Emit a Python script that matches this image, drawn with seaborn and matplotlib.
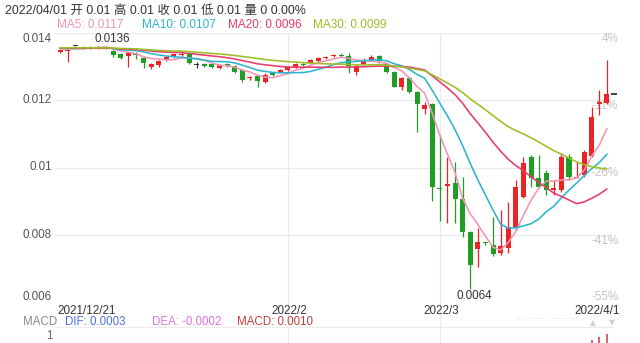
import matplotlib
matplotlib.use("Agg")
import matplotlib.pyplot as plt
import seaborn as sns
import pandas as pd
import numpy as np

sns.set_theme(style="white")
plt.rcParams['font.family'] = ['Liberation Sans', 'Noto Sans CJK SC', 'DejaVu Sans']

# ---------------- data ----------------
opens = [
    0.01342, 0.01345, 0.01359, 0.01355, 0.01354, 0.01354, 0.01352, 0.01345, 0.01336, 0.01330,
    0.01340, 0.01324, 0.01298, 0.01304, 0.01319, 0.01327, 0.01333, 0.01336, 0.01304, 0.01307,
    0.01307, 0.01295, 0.01307, 0.01301, 0.01289, 0.01265, 0.01271, 0.01253, 0.01280, 0.01283,
    0.01289, 0.01298, 0.01307, 0.01310, 0.01316, 0.01323, 0.01331, 0.01334, 0.01330, 0.01283,
    0.01307, 0.01319, 0.01330, 0.01307, 0.01283, 0.01239, 0.01265, 0.01224, 0.01173, 0.01188,
    0.00939, 0.00945, 0.00954, 0.00907, 0.00809, 0.00758, 0.00779, 0.00770, 0.00747, 0.00761,
    0.00824, 0.00913, 0.01031, 0.00969, 0.00984, 0.00933, 0.00933, 0.01031, 0.00969, 0.00978,
    0.01034, 0.01188, 0.01191]
closes = [
    0.01348, 0.01348, 0.01359, 0.01357, 0.01357, 0.01357, 0.01356, 0.01333, 0.01324, 0.01339,
    0.01333, 0.01310, 0.01308, 0.01316, 0.01327, 0.01336, 0.01336, 0.01310, 0.01304, 0.01301,
    0.01297, 0.01304, 0.01301, 0.01283, 0.01259, 0.01268, 0.01256, 0.01274, 0.01274, 0.01289,
    0.01298, 0.01307, 0.01304, 0.01319, 0.01324, 0.01327, 0.01333, 0.01331, 0.01301, 0.01301,
    0.01316, 0.01327, 0.01316, 0.01283, 0.01239, 0.01265, 0.01224, 0.01188, 0.01185, 0.00942,
    0.00936, 0.00951, 0.00907, 0.00809, 0.00711, 0.00779, 0.00776, 0.00744, 0.00767, 0.00824,
    0.00942, 0.01013, 0.00969, 0.00942, 0.00933, 0.00939, 0.01031, 0.00972, 0.00972, 0.01046,
    0.01150, 0.01194, 0.01218]
highs = [
    0.01351, 0.01351, 0.01359, 0.01359, 0.01359, 0.01359, 0.01361, 0.01348, 0.01339, 0.01342,
    0.01342, 0.01330, 0.01310, 0.01319, 0.01330, 0.01339, 0.01339, 0.01339, 0.01313, 0.01310,
    0.01307, 0.01307, 0.01310, 0.01304, 0.01289, 0.01271, 0.01271, 0.01280, 0.01283, 0.01292,
    0.01301, 0.01310, 0.01310, 0.01322, 0.01327, 0.01330, 0.01336, 0.01339, 0.01339, 0.01307,
    0.01324, 0.01333, 0.01333, 0.01310, 0.01286, 0.01268, 0.01268, 0.01227, 0.01194, 0.01191,
    0.01096, 0.01031, 0.01016, 0.00972, 0.00812, 0.00821, 0.00779, 0.00853, 0.00874, 0.00898,
    0.00963, 0.01031, 0.01037, 0.01037, 0.00993, 0.00963, 0.01043, 0.01040, 0.01016, 0.01052,
    0.01179, 0.01230, 0.01319]
lows = [
    0.01339, 0.01313, 0.01352, 0.01350, 0.01351, 0.01351, 0.01350, 0.01327, 0.01321, 0.01298,
    0.01321, 0.01295, 0.01292, 0.01298, 0.01316, 0.01324, 0.01327, 0.01307, 0.01295, 0.01298,
    0.01295, 0.01292, 0.01298, 0.01280, 0.01253, 0.01259, 0.01239, 0.01250, 0.01271, 0.01280,
    0.01286, 0.01295, 0.01301, 0.01307, 0.01313, 0.01321, 0.01327, 0.01327, 0.01280, 0.01274,
    0.01304, 0.01316, 0.01310, 0.01280, 0.01239, 0.01230, 0.01221, 0.01105, 0.01159, 0.00901,
    0.00841, 0.00836, 0.00836, 0.00794, 0.00640, 0.00705, 0.00770, 0.00738, 0.00741, 0.00747,
    0.00815, 0.00910, 0.00942, 0.00939, 0.00919, 0.00919, 0.00927, 0.00963, 0.00969, 0.00972,
    0.01031, 0.01156, 0.01188]
# closes before the visible window (seed for the moving averages)
prior_closes = [
    0.01352, 0.01355, 0.01358, 0.01356, 0.01354, 0.01357, 0.01360, 0.01358, 0.01355, 0.01353,
    0.01356, 0.01359, 0.01357, 0.01354, 0.01352, 0.01355, 0.01358, 0.01356, 0.01353, 0.01351,
    0.01354, 0.01357, 0.01355, 0.01352, 0.01350, 0.01353, 0.01356, 0.01354, 0.01351]

date_tick_pos = [0, 30, 50, 72]
date_tick_labels = ["2021/12/21", "2022/2", "2022/3", "2022/4/1"]
price_ticks = [0.014, 0.012, 0.010, 0.008, 0.006]
price_tick_labels = ["0.014", "0.012", "0.01", "0.008", "0.006"]
pct_tick_labels = ["4%", "-11%", "-26%", "-41%", "-55%"]

ma_periods = [5, 10, 20, 30]
ma_names = ["MA5", "MA10", "MA20", "MA30"]
ma_shown = ["0.0117", "0.0107", "0.0096", "0.0099"]

header = "2022/04/01 开 0.01 高 0.01 收 0.01 低 0.01 量 0 0.00%"
macd_names = ["DIF", "DEA", "MACD"]
macd_shown = ["0.0003", "-0.0002", "0.0010"]
macd_idx = [70, 71, 72]
macd_vals = [0.0008, 0.0009, 0.0010]

# ---------------- styles ----------------
RED, GREEN, DOJI = "#ec2323", "#1f9d24", "#333333"
MA_COLORS = {"MA5": "#f394b4", "MA10": "#2bb5cf", "MA20": "#e83a6e", "MA30": "#9dbf26"}
MACD_COLORS = ["#4a6fe3", "#e070e0", "#c33d3d"]
GRID = "#ebebeb"

W, H = 640, 343
fig = plt.figure(figsize=(6.4, 3.43), dpi=100)


def fx(px):
    return px / W


def fy(py):
    return 1 - py / H


top_px, bot_px, left_px, right_px = 32.5, 302.5, 55, 612
ax = fig.add_axes([fx(left_px), fy(bot_px), fx(right_px) - fx(left_px), (bot_px - top_px) / H])
n = len(closes)
ax.set_xlim(-0.66, n - 1 + 0.66)
ax.set_ylim(0.006, 0.014)
ax.axis("off")

# grid
for v in price_ticks[:-1]:
    ax.axhline(v, color=GRID, lw=1, zorder=0)
for p in date_tick_pos[1:3]:
    ax.axvline(p, ymin=-0.16, ymax=1, color=GRID, lw=1, zorder=0, clip_on=False)

# price / pct labels
ytr = ax.get_yaxis_transform()
for i, (v, lab, pl) in enumerate(zip(price_ticks, price_tick_labels, pct_tick_labels)):
    va_l = "top" if i == 0 else ("bottom" if i == len(price_ticks) - 1 else "center")
    va_r = "bottom" if i == len(price_ticks) - 1 else "top"
    ax.text(-0.006, v, lab, transform=ytr, ha="right", va=va_l, fontsize=8.4, color="#555555")
    ax.text(1.011, v, pl, transform=ytr, ha="right", va=va_r, fontsize=8.4, color="#c4c4c4", zorder=1)

# candles
idx = np.arange(n)
o, c, h, l = map(np.array, (opens, closes, highs, lows))
cols = [RED if cc > oo else (GREEN if cc < oo else DOJI) for oo, cc in zip(o, c)]
ax.vlines(idx, l, h, colors=cols, linewidth=0.9, zorder=3)
ax.bar(idx, np.maximum(np.abs(c - o), 0.000025), bottom=np.minimum(o, c), width=0.66,
       color=cols, linewidth=0, zorder=4)

# moving averages
allc = pd.Series(prior_closes + closes)
frames = []
for name, p in zip(ma_names, ma_periods):
    ma = allc.rolling(p).mean().iloc[len(prior_closes):].to_numpy()
    frames.append(pd.DataFrame({"idx": idx, "val": ma, "ma": name}))
df = pd.concat(frames, ignore_index=True)
sns.lineplot(data=df, x="idx", y="val", hue="ma", palette=MA_COLORS, legend=False,
             linewidth=1.15, ax=ax, zorder=5)
ax.axis("off")

# high / low markers
imax, imin = int(np.argmax(h)), int(np.argmin(l))
ax.text(imax + 0.9, h[imax] + 0.00002, f"{h[imax]:.4f}", ha="center", va="bottom", fontsize=8.4, color="#333333")
ax.text(imin + 0.6, l[imin] - 0.00002, f"{l[imin]:.4f}", ha="center", va="top", fontsize=8.4, color="#333333")
# latest-price tick
ax.plot([n - 1 + 0.95], [c[-1]], marker="_", color="#222222", markersize=5, mew=1.2, clip_on=False, zorder=6)

# date labels
xtr = ax.get_xaxis_transform()
has = ["left", "center", "center", "right"]
offs = [-0.4, 0.2, 0.2, 1.7]
for p, lab, ha, off in zip(date_tick_pos, date_tick_labels, has, offs):
    ax.text(p + off, -0.031, lab, transform=xtr, ha=ha, va="center", fontsize=8.4, color="#333333")

# header texts
fig.text(fx(5), fy(11), header, ha="left", va="center", fontsize=8.9, color="#333333")
for name, val, xp in zip(ma_names, ma_shown, [57, 142, 228, 313]):
    fig.text(fx(xp), fy(25), f"{name}: {val}", ha="left", va="center", fontsize=8.5, color=MA_COLORS[name])

# MACD header row
fig.text(fx(23), fy(322), "MACD", ha="left", va="center", fontsize=8.3, color="#888888")
for name, val, col, xp in zip(macd_names, macd_shown, MACD_COLORS, [65, 152, 237]):
    fig.text(fx(xp), fy(322), f"{name}: {val}", ha="left", va="center", fontsize=8.3, color=col)
# scroller widget
fig.text(fx(547), fy(320), "·" * 26, ha="center", va="center", fontsize=5, color="#cfcfcf")
fig.text(fx(593), fy(323), "▲", ha="center", va="center", fontsize=5.5, color="#d0d0d0", family="DejaVu Sans")
fig.text(fx(612), fy(323), "▼", ha="center", va="center", fontsize=5.5, color="#d0d0d0", family="DejaVu Sans")

# MACD panel (mostly below the visible area)
ax2 = fig.add_axes([fx(left_px), fy(367), fx(right_px) - fx(left_px), 40 / H])
ax2.set_xlim(ax.get_xlim())
ax2.set_ylim(0, 0.0012)
ax2.axis("off")
ax2.axhline(0.0012, color=GRID, lw=1, zorder=0, clip_on=False)
ax2.vlines(macd_idx, 0, macd_vals, colors="#c33d3d", linewidth=1.1)
fig.text(fx(53), fy(336), "1", ha="right", va="center", fontsize=8.3, color="#666666")

fig.savefig("out.png", dpi=100)
